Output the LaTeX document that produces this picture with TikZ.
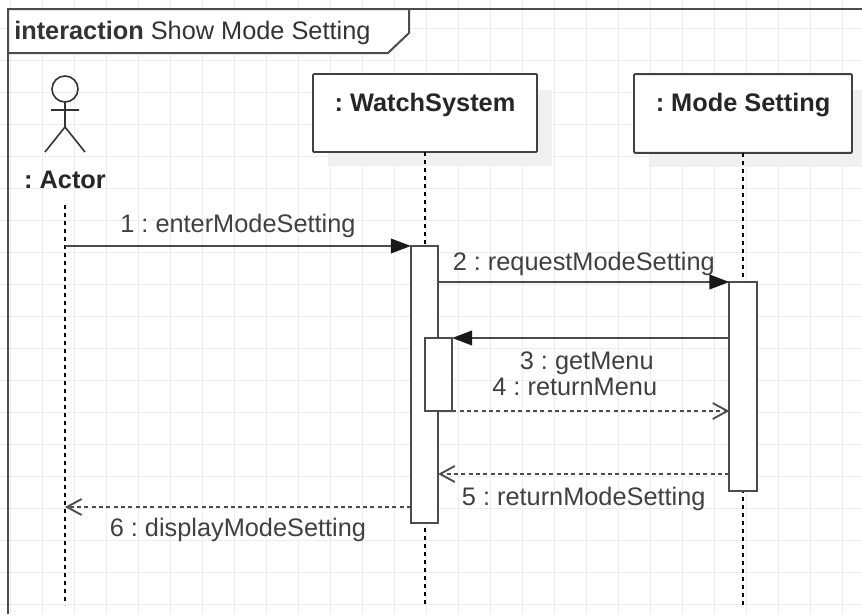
\documentclass[tikz,border=0pt]{standalone}
\usepackage{fontspec}
\setmainfont{Liberation Sans}
\usetikzlibrary{arrows.meta,positioning}
\frenchspacing

\begin{document}
\begin{tikzpicture}[x=0.75pt, y=-0.75pt,
  gridline/.style={draw=black!7, line width=0.75pt},
  framebox/.style={draw=black!70, line width=1.5pt},
  headbox/.style={draw=black!75, fill=white, line width=1.4pt, inner sep=0pt, outer sep=0pt, rounded corners=0.8pt},
  headshadow/.style={fill=black!6},
  headtxt/.style={font=\fontsize{19}{22}\selectfont\bfseries, text=black!85, inner sep=0pt},
  actbar/.style={draw=black!70, fill=white, line width=1.4pt, minimum width=20.5pt, inner sep=0pt, outer sep=0pt},
  lifeline/.style={draw=black, line width=1pt, dash pattern=on 3pt off 3pt},
  callmsg/.style={draw=black!70, line width=1.4pt, -{Triangle[length=15pt,width=11pt,color=black!90]}},
  retmsg/.style={draw=black!70, line width=1.4pt, dash pattern=on 3pt off 2.5pt, -{Straight Barb[length=11pt,width=12pt]}},
  msglbl/.style={font=\fontsize{19}{22}\selectfont, text=black!75, inner sep=0pt, text height=13.5pt, text depth=0pt},
]
\useasboundingbox (0,0) rectangle (862,614);
\fill[white] (0,0) rectangle (862,614);
% grid
\foreach \gx in {10,42,...,842} \draw[gridline] (\gx,0) -- (\gx,614);
\foreach \gy in {28,60,...,604} \draw[gridline] (0,\gy) -- (862,\gy);
% frame
\draw[framebox] (8,614) -- (8,9) -- (862,9);
\draw[framebox, fill=white] (8,9) -- (409,9) -- (409,33) -- (388,53) -- (8,53) -- cycle;
\node[anchor=base west, inner sep=0pt, font=\fontsize{19}{22}\selectfont, text=black!80] (title) at (14,39) {\textbf{interaction} Show Mode Setting};
% actor
\draw[line width=1.2pt, black!80] (65,89) circle[radius=9.75pt];
\draw[line width=1.2pt, black!80] (65,102) -- (65,127) (51,110) -- (79,110) (45,152) -- (65,127) -- (85,152);
\node[headtxt, anchor=base] (actorlbl) at (65,188) {: Actor};
\coordinate (actortop) at (65,205);
\coordinate (bot) at (0,605);
% heads
\fill[headshadow] (328,90) rectangle (552,166);
\fill[headshadow] (649,90) rectangle (862,167);
\node[headbox, minimum width=168pt, minimum height=58.5pt] (ws) at (425,113) {};
\node[headtxt, below=14pt of ws.north] (wslbl) {: WatchSystem};
\node[headbox, minimum width=163.5pt, minimum height=59pt] (ms) at (743,113.5) {};
\node[headtxt, below=14pt of ms.north] (mslbl) {: Mode Setting};
% lifelines
\draw[lifeline] (actortop) -- (actortop |- bot);
\draw[lifeline] (ws.south) -- (ws.south |- bot);
\draw[lifeline] (ms.south) -- (ms.south |- bot);
% activations
\node[actbar, minimum height=207.75pt] (wsact) at (424.5,384.5) {};
\node[actbar, minimum height=54.75pt] (wsnest) at (438.5,374.5) {};
\node[actbar, minimum height=156.75pt] (msact) at (743,386.5) {};
% messages
\coordinate (r5) at (0,474);
\coordinate (r6) at (0,507);
\draw[callmsg] (actortop |- wsact.north) -- (wsact.north west) node[msglbl, midway, above=9.75pt] {1 : enterModeSetting};
\draw[callmsg] (wsact.east |- msact.north) -- (msact.north west) node[msglbl, midway, above=8.25pt] {2 : requestModeSetting};
\draw[callmsg] (msact.west |- wsnest.north) -- (wsnest.north east) node[msglbl, midway, below=9.5pt, xshift=-3pt] {3 : getMenu};
\draw[retmsg] (wsnest.south east) -- (msact.west |- wsnest.south) node[msglbl, midway, above=10.75pt, xshift=-12pt] {4 : returnMenu};
\draw[retmsg] (msact.west |- r5) -- (wsact.east |- r5) node[msglbl, midway, below=9.5pt] {5 : returnModeSetting};
\draw[retmsg] (wsact.west |- r6) -- (actortop |- r6) node[msglbl, midway, below=8.25pt] {6 : displayModeSetting};
\end{tikzpicture}
\end{document}
